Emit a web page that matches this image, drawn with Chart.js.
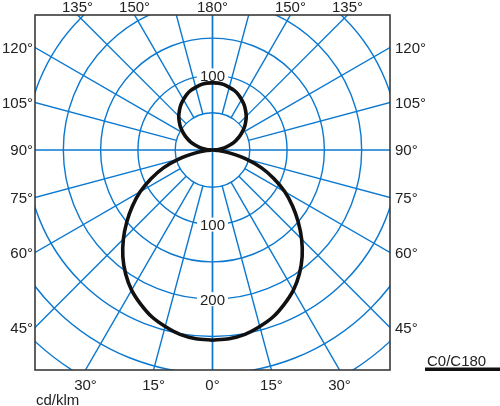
<!DOCTYPE html>
<html>
<head>
<meta charset="utf-8">
<script src="https://cdn.jsdelivr.net/npm/chart.js@4"></script>
<style>
  body { margin: 0; background: #fff; }
  canvas { display: block; }
</style>
</head>
<body>
<canvas id="myChart" width="500" height="406"></canvas>
<script>
//Polar intensity data (C0/C180, symmetric), angle from nadir in degrees
let angles = [0, 5, 10, 15, 20, 25, 30, 35, 40, 45, 50, 55, 60, 65, 70, 75, 80, 85, 90,
              95, 100, 105, 110, 115, 120, 125, 130, 135, 140, 145, 150, 155, 160, 165, 170, 175, 180];
let intensity = [255, 254, 251, 245, 238, 228, 217, 203, 187, 169, 150, 131, 112, 91, 70, 47, 24, 8, 0,
                 8, 16, 23, 31, 38, 45, 52, 58, 64, 69, 74, 78, 82, 85, 87, 89, 90, 90];

//Grid: rings in cd/klm, spokes in degrees
let ringValues = [50, 100, 150, 200, 250, 300, 350];
let spokeAngles = [15, 30, 45, 60, 75, 105, 120, 135, 150, 165];
let axisAngles = [0, 90, 180];

//Labels
let ringLabelsDown = [100, 200];
let ringLabelsUp = [100];
let angleLabels = [0, 15, 30, 45, 60, 75, 90, 105, 120, 135, 150, 180];
let unitLabel = 'cd/klm';
let seriesLabel = 'C0/C180';

let gridColor = '#0b78d0';
let font = '15px "Liberation Sans", Arial, sans-serif';

//polar (deg from down, side +1 right / -1 left) -> data x,y
function toXY(deg, r, side) {
    let a = deg * Math.PI / 180;
    return { x: side * r * Math.sin(a), y: -r * Math.cos(a) };
}

//curve: right side 0 -> 180, then left side 180 -> 0
let curve = [];
for (let i = 0; i < angles.length; i++) curve.push(toXY(angles[i], intensity[i], 1));
for (let i = angles.length - 1; i >= 0; i--) curve.push(toXY(angles[i], intensity[i], -1));

let polarGrid = {
    id: 'polarGrid',
    beforeDatasetsDraw(chart) {
        let ctx = chart.ctx, ca = chart.chartArea;
        let xs = chart.scales.x, ys = chart.scales.y;
        let cx = xs.getPixelForValue(0), cy = ys.getPixelForValue(0);
        let k = xs.getPixelForValue(1) - cx;
        ctx.save();
        ctx.beginPath();
        ctx.rect(ca.left, ca.top, ca.right - ca.left, ca.bottom - ca.top);
        ctx.clip();
        ctx.strokeStyle = gridColor;
        ctx.lineWidth = 1.4;
        //rings
        ringValues.forEach(function (v) {
            ctx.beginPath();
            ctx.arc(cx, cy, v * k, 0, Math.PI * 2);
            ctx.stroke();
        });
        //spokes start at first ring
        let far = 1000;
        spokeAngles.forEach(function (d) {
            [1, -1].forEach(function (s) {
                let p0 = toXY(d, ringValues[0], s), p1 = toXY(d, far, s);
                ctx.beginPath();
                ctx.moveTo(xs.getPixelForValue(p0.x), ys.getPixelForValue(p0.y));
                ctx.lineTo(xs.getPixelForValue(p1.x), ys.getPixelForValue(p1.y));
                ctx.stroke();
            });
        });
        //axis lines through centre
        axisAngles.forEach(function (d) {
            [1, -1].forEach(function (s) {
                let p1 = toXY(d, far, s);
                ctx.beginPath();
                ctx.moveTo(cx, cy);
                ctx.lineTo(xs.getPixelForValue(p1.x), ys.getPixelForValue(p1.y));
                ctx.stroke();
            });
        });
        //ring value labels with white background
        ctx.font = font;
        ctx.textAlign = 'center';
        ctx.textBaseline = 'alphabetic';
        let put = function (v, up) {
            let y = ys.getPixelForValue(up ? v : -v);
            let w = ctx.measureText(String(v)).width;
            ctx.fillStyle = '#fff';
            ctx.fillRect(cx - w / 2 - 3, y - 7, w + 6, 14);
            ctx.fillStyle = '#222';
            ctx.fillText(String(v), cx, y + 5.5);
        };
        ringLabelsDown.forEach(function (v) { put(v, false); });
        ringLabelsUp.forEach(function (v) { put(v, true); });
        ctx.restore();
    },
    afterDraw(chart) {
        let ctx = chart.ctx, ca = chart.chartArea;
        let xs = chart.scales.x, ys = chart.scales.y;
        let cx = xs.getPixelForValue(0), cy = ys.getPixelForValue(0);
        ctx.save();
        //frame
        ctx.strokeStyle = '#3a3a3a';
        ctx.lineWidth = 1.6;
        ctx.strokeRect(ca.left, ca.top, ca.right - ca.left, ca.bottom - ca.top);
        //angle labels where the spokes leave the frame
        ctx.font = font;
        ctx.fillStyle = '#222';
        ctx.textBaseline = 'alphabetic';
        angleLabels.forEach(function (d) {
            let sides = (d === 0 || d === 180) ? [1] : [1, -1];
            sides.forEach(function (s) {
                let a = d * Math.PI / 180;
                let dx = s * Math.sin(a), dy = Math.cos(a);
                let t = Infinity, edge = '';
                if (dx < -1e-9 && (ca.left - cx) / dx < t) { t = (ca.left - cx) / dx; edge = 'left'; }
                if (dx > 1e-9 && (ca.right - cx) / dx < t) { t = (ca.right - cx) / dx; edge = 'right'; }
                if (dy > 1e-9 && (ca.bottom - cy) / dy < t) { t = (ca.bottom - cy) / dy; edge = 'bottom'; }
                if (dy < -1e-9 && (ca.top - cy) / dy < t) { t = (ca.top - cy) / dy; edge = 'top'; }
                let hx = cx + dx * t, hy = cy + dy * t;
                let txt = d + '°';
                if (edge === 'left') { ctx.textAlign = 'right'; ctx.fillText(txt, ca.left - 2, hy + 5.5); }
                if (edge === 'right') { ctx.textAlign = 'left'; ctx.fillText(txt, ca.right + 5, hy + 5.5); }
                if (edge === 'top') { ctx.textAlign = 'center'; ctx.fillText(txt, hx, ca.top - 3); }
                if (edge === 'bottom') { ctx.textAlign = 'center'; ctx.fillText(txt, hx, ca.bottom + 20); }
            });
        });
        //unit
        ctx.textAlign = 'left';
        ctx.fillText(unitLabel, ca.left + 1, ca.bottom + 35);
        //legend
        ctx.fillText(seriesLabel, 427, ca.bottom - 4);
        ctx.fillStyle = '#111';
        ctx.fillRect(425, ca.bottom - 2.5, 75, 3.5);
        ctx.restore();
    }
};

let myChart = document.getElementById('myChart').getContext('2d');

let dataChart = new Chart(myChart, {
    type: 'scatter',
    data: {
        datasets: [{
            label: seriesLabel,
            data: curve,
            showLine: true,
            borderColor: '#111',
            borderWidth: 3.6,
            pointRadius: 0,
            tension: 0.25,
            fill: false
        }]
    },
    options: {
        responsive: false,
        animation: false,
        layout: {
            padding: { left: 35, right: 110, top: 15, bottom: 36 }
        },
        plugins: {
            legend: { display: false },
            tooltip: { enabled: false }
        },
        scales: {
            x: { type: 'linear', min: -238, max: 238, display: false },
            y: { type: 'linear', min: -295, max: 181, display: false }
        }
    },
    plugins: [polarGrid]
});
</script>
</body>
</html>
